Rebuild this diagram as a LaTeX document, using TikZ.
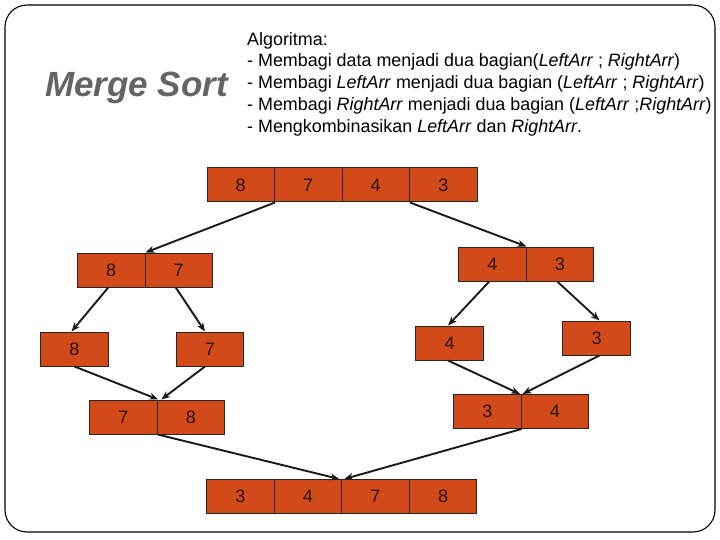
\documentclass[tikz,border=0pt]{standalone}
\usepackage{fontspec}
\setmainfont{Liberation Sans}
\usetikzlibrary{arrows.meta}
\definecolor{cellfill}{RGB}{210,74,26}
\definecolor{celltext}{RGB}{40,20,12}
\definecolor{titlegray}{RGB}{100,100,100}
\tikzset{
  cell/.style={draw=black!85, line width=1pt, fill=cellfill, minimum width=67.5pt, minimum height=34pt, inner sep=0pt, text=celltext, font=\fontsize{18}{18}\selectfont},
  arr/.style={-{Stealth[length=9pt,width=7pt]}, line width=1.9pt, black!90},
}
\begin{document}
\begin{tikzpicture}[x=1pt,y=-1pt]
\useasboundingbox (0,0) rectangle (720,540);
\draw[line width=1.1pt, rounded corners=22pt] (5,5) rectangle (715,532);

\node[anchor=base west, inner sep=0pt, text=titlegray, font=\fontsize{35}{35}\selectfont\bfseries\itshape] (title) at (45,97) {Merge Sort};

\node[anchor=north west, inner sep=0pt, align=left, font=\fontsize{17.9}{21.75}\selectfont] (algo) at (247,32) {Algoritma:\\
- Membagi data menjadi dua bagian(\textit{LeftArr} ; \textit{RightArr})\\
- Membagi \textit{LeftArr} menjadi dua bagian (\textit{LeftArr} ; \textit{RightArr})\\
- Membagi \textit{RightArr} menjadi dua bagian (\textit{LeftArr} ;\textit{RightArr})\\
- Mengkombinasikan \textit{LeftArr} dan \textit{RightArr}.};

% top row
\node[cell] (ta) at (240.75,185) {8};
\node[cell] (tb) at (308.25,185) {7};
\node[cell] (tc) at (375.75,185) {4};
\node[cell] (td) at (443.25,185) {3};
% level 2
\node[cell] (la) at (111.25,270) {8};
\node[cell] (lb) at (178.75,270) {7};
\node[cell] (ra) at (492.25,264) {4};
\node[cell] (rb) at (559.75,264) {3};
% level 3
\node[cell] (l8) at (74.5,349) {8};
\node[cell] (l7) at (210,349) {7};
\node[cell] (r4) at (449.5,343) {4};
\node[cell] (r3) at (596.5,338) {3};
% level 4
\node[cell] (ma) at (123.5,417) {7};
\node[cell] (mb) at (191,417) {8};
\node[cell] (na) at (487.25,411.5) {3};
\node[cell] (nb) at (554.75,411.5) {4};
% bottom
\node[cell] (ba) at (240.5,496.5) {3};
\node[cell] (bb) at (308,496.5) {4};
\node[cell] (bc) at (375.5,496.5) {7};
\node[cell] (bd) at (443,496.5) {8};

% arrows
\draw[arr] (ta.south east) -- (la.north east);
\draw[arr] (tc.south east) -- (ra.north east);
\draw[arr] ([xshift=-3pt]la.south) -- ([xshift=-3pt]l8.north);
\draw[arr] ([xshift=-3pt]lb.south) -- ([xshift=-5pt]l7.north);
\draw[arr] (l8.south) -- ([xshift=0.5pt]ma.north east);
\draw[arr] ([xshift=-5pt]l7.south) -- ([xshift=3.5pt]ma.north east);
\draw[arr] (ma.south east) -- ([xshift=-3pt]bb.north east);
\draw[arr] (na.south east) -- ([xshift=2pt]bb.north east);
\draw[arr] ([xshift=-3pt]ra.south) -- ([xshift=-1.5pt]r4.north);
\draw[arr] ([xshift=-2.5pt]rb.south) -- ([xshift=3pt]r3.north);
\draw[arr] ([xshift=-1.5pt]r4.south) -- ([xshift=-1.5pt]na.north east);
\draw[arr] ([xshift=3pt]r3.south) -- ([xshift=1pt]na.north east);
\end{tikzpicture}
\end{document}
